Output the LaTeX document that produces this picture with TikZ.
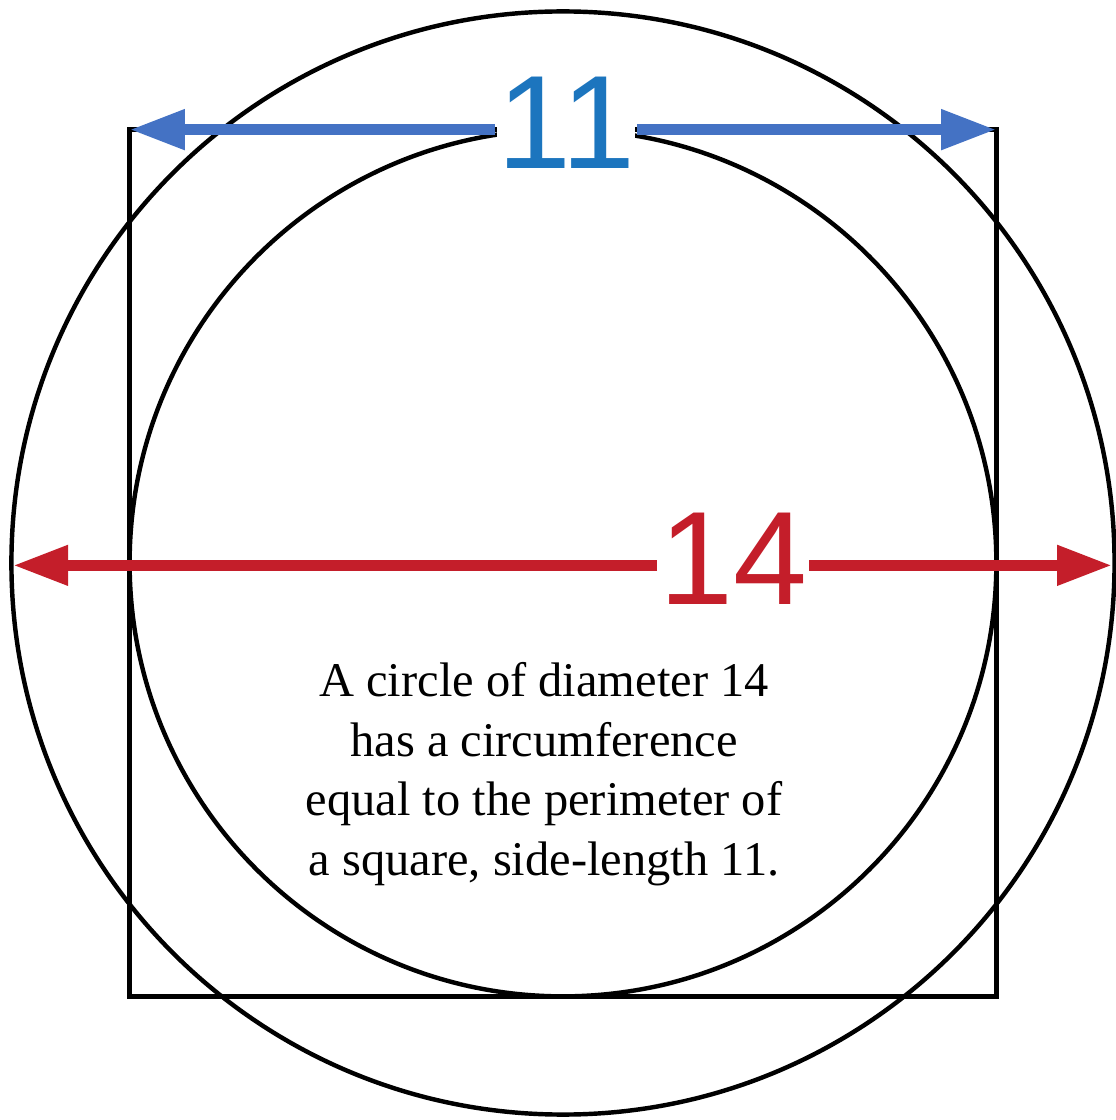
\documentclass[tikz,border=0pt]{standalone}
\usepackage{fontspec}
\setmainfont{Liberation Serif}
\newfontfamily\notefont{Liberation Serif}
\newfontfamily\labelfont{Liberation Sans}
\usetikzlibrary{arrows.meta}

\definecolor{dimblue}{RGB}{68,114,196}
\definecolor{numblue}{RGB}{28,117,190}
\definecolor{dimred}{RGB}{196,30,42}

\begin{document}
\begin{tikzpicture}[
    line width=1.6pt,
    dimline/.style={line width=4pt, -{Triangle[length=0.7cm, width=0.48cm]}},
    dimlabel/.style={font=\labelfont\fontsize{48}{48}\selectfont, inner sep=0pt, fill=white}
]
    \useasboundingbox (-7.145,-7.069) rectangle (7.018,7.145);

    % Square and the two circles
    \draw (-5.5,-5.5) rectangle (5.5,5.5);
    \draw (0,0) circle (7);
    \draw (0,0) circle (5.5);

    % Arrow ends
    \coordinate (sqTL) at (-5.5,5.5);
    \coordinate (sqTR) at (5.5,5.5);
    \coordinate (cirL) at (-6.98,-0.03);
    \coordinate (cirR) at (6.97,-0.03);

    % Side length
    \node[dimlabel, text=numblue] (side) at (0.04,5.59) {11};
    \draw[dimline, dimblue] (side.west |- sqTL) -- (sqTL);
    \draw[dimline, dimblue] (side.east |- sqTR) -- (sqTR);

    % Diameter
    \node[dimlabel, text=dimred] (diam) at (2.16,0.057) {14};
    \draw[dimline, dimred] (diam.west |- cirL) -- (cirL);
    \draw[dimline, dimred] (diam.east |- cirR) -- (cirR);

    % Note
    \node[anchor=north, align=center, inner sep=0pt,
        font=\notefont\fontsize{17.5}{21.6}\selectfont] (note) at (-0.24,-1.231)
        {A circle of diameter 14\\ has a circumference\\ equal to the perimeter of\\ a square, side-length 11.};

\end{tikzpicture}
\end{document}
